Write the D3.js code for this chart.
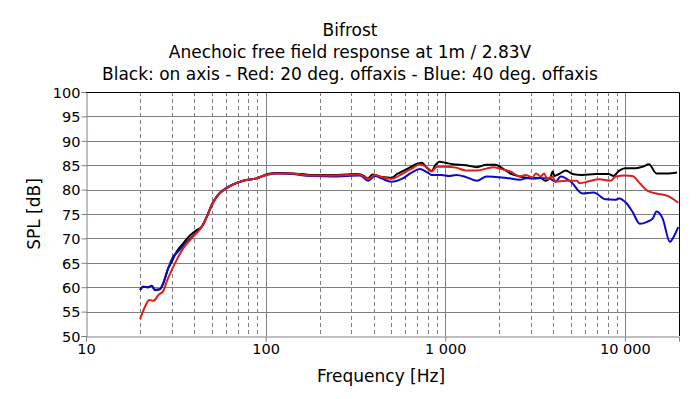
<!DOCTYPE html>
<html>
<head>
<meta charset="utf-8">
<script src="https://cdn.jsdelivr.net/npm/d3@7"></script>
<style>
  body { margin: 0; background: #fff; }
  text { font-family: "DejaVu Sans", sans-serif; fill: #000; }
</style>
</head>
<body>
<div id="chart"></div>
<script>
var width = 700, height = 399;
var plot = {left: 86, right: 679, top: 92, bottom: 336};

// measured curves, [frequency Hz, SPL dB]
var onAxis = [
  [20,59.5],[20.8,60.1],[22.2,60.0],[23.2,60.3],[24.2,59.5],[25.8,59.6],[26.9,60.8],[28.7,63.9],
  [30,65.2],[32,67.3],[34.8,69.0],[37.9,70.6],[41.3,71.7],[44.1,72.4],[47,74.4],[50.1,76.8],
  [54.5,78.9],[60.7,80.3],[75,81.8],[89,82.3],[103,83.2],[115,83.4],[125,83.4],[140,83.3],[160,83.2],
  [180,83.0],[210,83.0],[240,83.0],[280,83.1],[320,83.2],[345,83.0],[370,82.3],[395,83.1],[430,82.7],
  [470,82.5],[500,82.4],[540,83.2],[580,83.8],[640,84.6],[700,85.3],[740,85.5],[790,84.5],[840,83.8],
  [880,85.0],[930,85.7],[1000,85.5],[1100,85.2],[1300,85.0],[1500,84.6],[1700,85.1],[1900,85.1],
  [2070,84.4],[2300,83.3],[2600,82.7],[3100,82.3],[3400,82.4],[3600,81.8],[3850,82.5],[3960,83.7],
  [4050,82.8],[4300,83.2],[4700,83.9],[5100,83.2],[5800,83.0],[6900,83.2],[8100,83.2],[8600,82.8],
  [9300,83.9],[10000,84.4],[11500,84.4],[12600,84.7],[13600,85.2],[15000,83.3],[17300,83.3],[19500,83.5]
];
var offAxis20 = [
  [20,53.5],[21.3,56.0],[22.5,57.4],[23.7,57.2],[25.3,58.4],[26.9,59.2],[28.1,61.1],[30,63.5],
  [32,65.6],[34.8,68.0],[39.6,70.4],[44.1,72.4],[47,74.4],[50.1,76.8],[54.5,78.9],[60.7,80.3],
  [75,81.8],[89,82.3],[103,83.1],[115,83.3],[140,83.3],[177,82.9],[240,82.9],[335,83.1],[372,82.2],
  [406,83.0],[442,82.6],[500,82.2],[580,83.3],[650,84.3],[720,85.2],[770,84.8],[840,83.7],[900,84.7],
  [1000,84.7],[1150,84.5],[1300,83.9],[1500,83.9],[1850,84.6],[2050,84.2],[2300,83.7],[2600,82.7],
  [2800,83.0],[3050,82.5],[3200,83.3],[3400,82.7],[3550,83.3],[3700,82.1],[3950,82.7],[4100,81.6],
  [4700,81.8],[5400,81.8],[5600,81.3],[6300,81.7],[7200,82.1],[8300,81.8],[8900,82.7],[10000,82.9],
  [11000,82.8],[12100,81.3],[13300,79.8],[15000,79.2],[17300,78.7],[19800,77.3]
];
var offAxis40 = [
  [20,59.4],[20.8,60.1],[22.2,60.0],[23.2,60.3],[24.2,59.4],[25.8,59.6],[26.9,60.8],[28.7,63.9],
  [30.6,66.3],[32,67.0],[34.8,68.5],[39.6,70.6],[44.1,72.4],[47,74.4],[50.1,76.9],[54.5,79.0],
  [60.7,80.4],[75,81.8],[89,82.3],[103,83.1],[115,83.3],[140,83.2],[177,82.8],[240,82.7],[335,82.9],
  [372,81.8],[406,82.8],[442,82.3],[500,81.6],[580,82.3],[650,83.5],[720,84.2],[790,83.6],[840,83.0],
  [950,83.0],[1050,82.8],[1150,83.0],[1300,82.6],[1500,81.8],[1700,82.7],[1900,82.6],[2200,82.4],
  [2600,82.0],[2800,82.3],[3200,82.4],[3800,82.3],[4100,81.6],[4400,82.7],[5000,81.6],[5800,79.2],
  [6700,79.4],[7800,78.0],[8800,77.9],[9300,78.2],[10200,77.2],[11000,75.5],[12100,73.0],[13300,73.4],
  [14300,74.1],[15000,75.5],[16200,74.1],[17800,69.3],[18600,70.2],[19800,72.3]
];

var yTicks = [50, 55, 60, 65, 70, 75, 80, 85, 90, 95, 100];
var xTicks = [10, 100, 1000, 10000];
var xTickLabels = ["10", "100", "1 000", "10 000"];
var titles = ["Bifrost", "Anechoic free field response at 1m / 2.83V",
              "Black: on axis - Red: 20 deg. offaxis - Blue: 40 deg. offaxis"];

var svg = d3.select("#chart").append("svg")
    .attr("width", width)
    .attr("height", height);

var x = d3.scaleLog().domain([10, 20000]).range([plot.left, plot.right]),
    y = d3.scaleLinear().domain([50, 100]).range([plot.bottom, plot.top]);

// minor frequency lines (dashed)
var minor = [];
xTicks.forEach(function(d) {
  for (var k = 2; k <= 9; k++) if (d * k < 20000) minor.push(d * k);
});

svg.append("g").selectAll("line")
    .data(minor)
  .enter().append("line")
    .attr("x1", function(d) { return Math.round(x(d)) + 0.5; })
    .attr("x2", function(d) { return Math.round(x(d)) + 0.5; })
    .attr("y1", plot.top)
    .attr("y2", plot.bottom)
    .attr("stroke", "#808080")
    .attr("stroke-dasharray", "4,3");

svg.append("g").selectAll("line")
    .data(xTicks.slice(1))
  .enter().append("line")
    .attr("x1", function(d) { return Math.round(x(d)) + 0.5; })
    .attr("x2", function(d) { return Math.round(x(d)) + 0.5; })
    .attr("y1", plot.top)
    .attr("y2", plot.bottom)
    .attr("stroke", "#808080");

svg.append("g").selectAll("line")
    .data(yTicks.slice(1, -1))
  .enter().append("line")
    .attr("x1", plot.left)
    .attr("x2", plot.right)
    .attr("y1", function(d) { return Math.round(y(d)) + 0.5; })
    .attr("y2", function(d) { return Math.round(y(d)) + 0.5; })
    .attr("stroke", "#808080");

// axes
svg.append("g")
    .attr("transform", "translate(" + (plot.left + 0.5) + ",0)")
    .style("font-family", "'DejaVu Sans', sans-serif")
    .style("font-size", "14.5px")
    .call(d3.axisLeft(y).tickValues(yTicks).tickSize(5).tickPadding(1)
      .tickFormat(d3.format("d")))
    .call(function(g) {
      g.selectAll("line, path").attr("stroke", "#808080");
      g.selectAll("text").attr("fill", "#000").attr("dy", "0.36em");
    });

svg.append("g")
    .attr("transform", "translate(0," + (plot.bottom + 0.5) + ")")
    .style("font-family", "'DejaVu Sans', sans-serif")
    .style("font-size", "14.5px")
    .call(d3.axisBottom(x).tickValues(xTicks).tickSize(5).tickPadding(2)
      .tickFormat(function(d, i) { return xTickLabels[i]; }))
    .call(function(g) {
      g.selectAll("line, path").attr("stroke", "#808080");
      g.selectAll("text").attr("fill", "#000");
    });

// top and right frame
svg.append("path")
    .attr("d", "M" + plot.left + "," + (plot.top + 0.5) + "H" + (plot.right + 0.5) + "V" + plot.bottom)
    .attr("fill", "none")
    .attr("stroke", "#000");

// curves
var line = d3.line()
    .x(function(d) { return x(d[0]); })
    .y(function(d) { return y(d[1]); })
    .curve(d3.curveMonotoneX);

[[onAxis, "#000000"], [offAxis40, "#0a0ac8"], [offAxis20, "#dc1e1e"]].forEach(function(s) {
  svg.append("path")
      .datum(s[0])
      .attr("fill", "none")
      .attr("stroke", s[1])
      .attr("stroke-width", 2)
      .attr("stroke-linejoin", "round")
      .attr("d", line);
});

// titles
svg.selectAll(".title")
    .data(titles)
  .enter().append("text")
    .attr("class", "title")
    .attr("x", 350)
    .attr("y", function(d, i) { return 36 + i * 22; })
    .attr("text-anchor", "middle")
    .style("font-size", "17px")
    .text(function(d) { return d; });

svg.append("text")
    .attr("x", 381)
    .attr("y", 382)
    .attr("text-anchor", "middle")
    .style("font-size", "17px")
    .text("Frequency [Hz]");

svg.append("text")
    .attr("transform", "translate(40," + ((plot.top + plot.bottom) / 2) + ") rotate(-90)")
    .attr("text-anchor", "middle")
    .style("font-size", "17px")
    .text("SPL [dB]");
</script>
</body>
</html>
